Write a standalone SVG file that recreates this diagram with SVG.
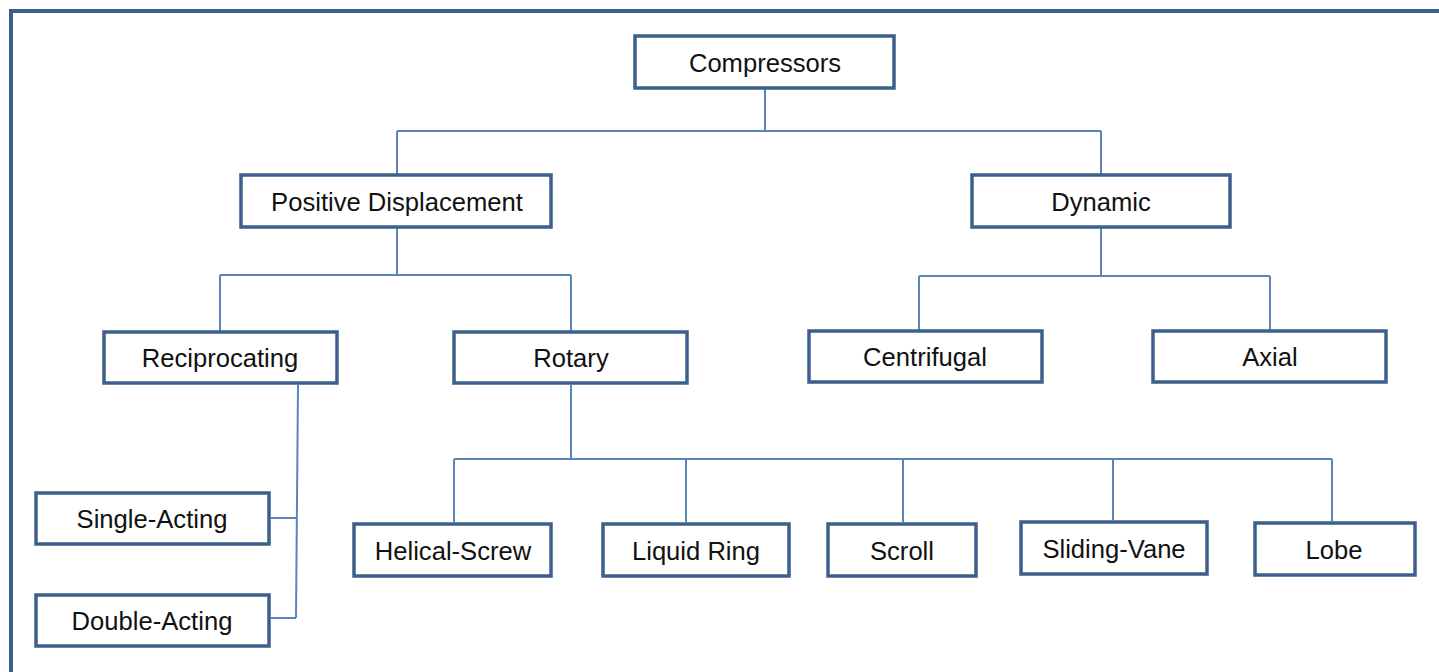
<svg xmlns="http://www.w3.org/2000/svg" width="1439" height="672" viewBox="0 0 1439 672">
<style>
.frame{fill:none;stroke:#3a5f8e;stroke-width:4}
.box{fill:#fff;stroke:#3c5f8c;stroke-width:3.5}
.lbl{font-family:"Liberation Sans",Arial,sans-serif;font-size:25.6px;fill:#111;text-anchor:middle}
.con{fill:none;stroke:#5b84b8;stroke-width:2}
</style>
<rect width="1439" height="672" fill="#fff"/>
<rect class="frame" x="11" y="11" width="1440" height="680"/>
<g id="connectors">
<path class="con" d="M765 89V132M397 131H1101M397 131V175M1101 131V175"/>
<path class="con" d="M397 228V275M220 275H571M220 275V332M571 275V332"/>
<path class="con" d="M1101 228V276M919 276H1270M919 276V330M1270 276V330"/>
<path class="con" d="M298 385L296 618M271 518H297M271 618H296"/>
<path class="con" d="M571 385V459M454 459H1332M454 459V522M686 459V522M903 459V522M1113 459V520M1332 459V521"/>
</g>
<g id="compressors"><rect class="box" x="635" y="36" width="259" height="52"/><text class="lbl" x="765" y="72">Compressors</text></g>
<g id="positive"><rect class="box" x="241" y="175" width="310" height="52"/><text class="lbl" x="397" y="211">Positive Displacement</text></g>
<g id="dynamic"><rect class="box" x="972" y="175" width="258" height="52"/><text class="lbl" x="1101" y="211">Dynamic</text></g>
<g id="reciprocating"><rect class="box" x="104" y="332" width="233" height="51"/><text class="lbl" x="220" y="367">Reciprocating</text></g>
<g id="rotary"><rect class="box" x="454" y="332" width="233" height="51"/><text class="lbl" x="571" y="367">Rotary</text></g>
<g id="centrifugal"><rect class="box" x="809" y="331" width="233" height="51"/><text class="lbl" x="925" y="366">Centrifugal</text></g>
<g id="axial"><rect class="box" x="1153" y="331" width="233" height="51"/><text class="lbl" x="1270" y="366">Axial</text></g>
<g id="single"><rect class="box" x="36" y="493" width="233" height="51"/><text class="lbl" x="152" y="528">Single-Acting</text></g>
<g id="double"><rect class="box" x="36" y="595" width="233" height="51"/><text class="lbl" x="152" y="630">Double-Acting</text></g>
<g id="helical"><rect class="box" x="354" y="524" width="197" height="52"/><text class="lbl" x="453" y="560">Helical-Screw</text></g>
<g id="liquid"><rect class="box" x="603" y="524" width="186" height="52"/><text class="lbl" x="696" y="560">Liquid Ring</text></g>
<g id="scroll"><rect class="box" x="828" y="524" width="148" height="52"/><text class="lbl" x="902" y="560">Scroll</text></g>
<g id="sliding"><rect class="box" x="1021" y="522" width="186" height="52"/><text class="lbl" x="1114" y="558">Sliding-Vane</text></g>
<g id="lobe"><rect class="box" x="1255" y="523" width="160" height="52"/><text class="lbl" x="1334" y="559">Lobe</text></g>
</svg>
